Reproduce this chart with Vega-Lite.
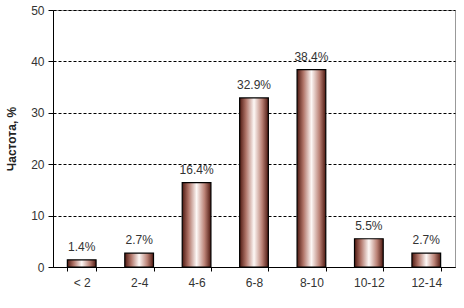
{
  "$schema": "https://vega.github.io/schema/vega-lite/v6.json",
  "width": 402,
  "height": 257,
  "autosize": "none",
  "padding": {"left": 53, "top": 10, "right": 9, "bottom": 41},
  "background": "white",
  "config": {
    "view": {"stroke": "#999999", "strokeWidth": 1},
    "font": "Liberation Sans"
  },
  "data": {
    "values": [
      {"range": "< 2", "pct": 1.4, "label": "1.4%"},
      {"range": "2-4", "pct": 2.7, "label": "2.7%"},
      {"range": "4-6", "pct": 16.4, "label": "16.4%"},
      {"range": "6-8", "pct": 32.9, "label": "32.9%"},
      {"range": "8-10", "pct": 38.4, "label": "38.4%"},
      {"range": "10-12", "pct": 5.5, "label": "5.5%"},
      {"range": "12-14", "pct": 2.7, "label": "2.7%"}
    ]
  },
  "encoding": {
    "x": {
      "field": "range",
      "type": "nominal",
      "sort": null,
      "scale": {"paddingInner": 0.5, "paddingOuter": 0.25},
      "axis": {
        "title": null,
        "labelAngle": 0,
        "labelFontSize": 12,
        "labelColor": "#333333",
        "labelPadding": 6,
        "tickBand": "extent",
        "domainColor": "black",
        "tickColor": "black",
        "tickSize": 4,
        "grid": false
      }
    },
    "y": {
      "field": "pct",
      "type": "quantitative",
      "scale": {"domain": [0, 50]},
      "axis": {
        "title": "Частота, %",
        "titleFontSize": 12,
        "titleFontWeight": "bold",
        "titleColor": "#222222",
        "titlePadding": 12,
        "values": [0, 10, 20, 30, 40, 50],
        "labelFontSize": 12,
        "labelColor": "#333333",
        "labelPadding": 4,
        "domainColor": "black",
        "tickColor": "black",
        "tickSize": 5,
        "grid": true,
        "gridColor": "black",
        "gridDash": [3, 2],
        "gridWidth": 1
      }
    }
  },
  "layer": [
    {
      "mark": {
        "type": "bar",
        "stroke": "black",
        "strokeWidth": 1.2,
        "color": {
          "gradient": "linear",
          "x1": 0, "y1": 0, "x2": 1, "y2": 0,
          "stops": [
            {"offset": 0, "color": "#4e1810"},
            {"offset": 0.22, "color": "#b07468"},
            {"offset": 0.5, "color": "#fdf8f6"},
            {"offset": 0.78, "color": "#bb8276"},
            {"offset": 1, "color": "#4e1810"}
          ]
        }
      }
    },
    {
      "mark": {"type": "text", "dy": -13, "fontSize": 12, "color": "#333333"},
      "encoding": {
        "text": {"field": "label", "type": "nominal"}
      }
    }
  ]
}
